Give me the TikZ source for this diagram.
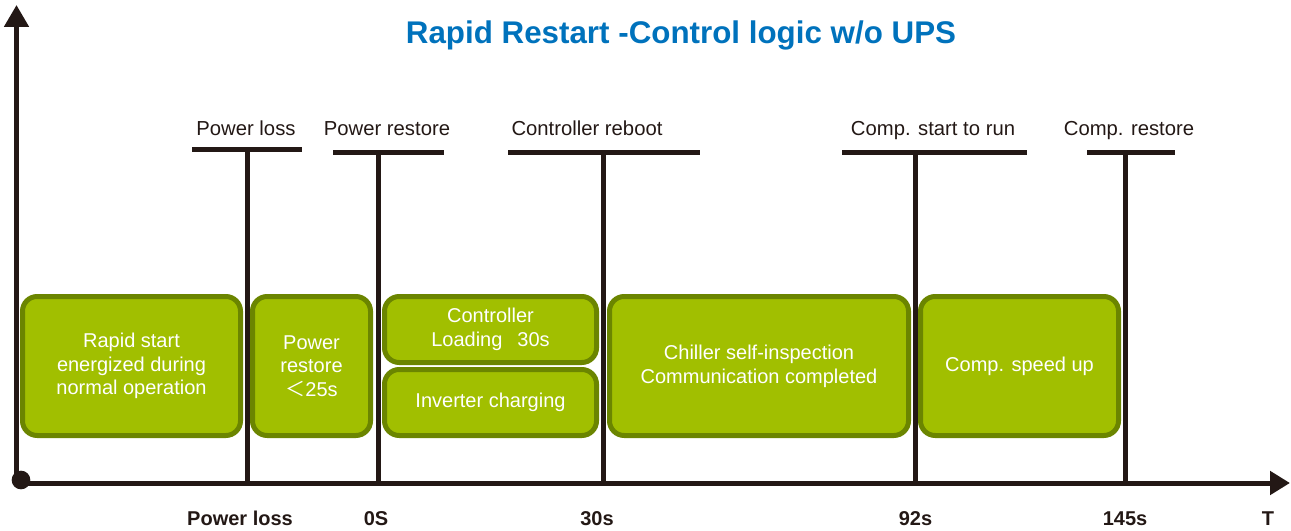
\documentclass[tikz,border=0pt]{standalone}
\usepackage{fontspec}
\setmainfont{Liberation Sans}
\newfontfamily\cjk{Noto Sans CJK SC}
\usetikzlibrary{arrows.meta}
\definecolor{boxfill}{RGB}{161,191,0}
\definecolor{boxedge}{RGB}{107,133,0}
\definecolor{ink}{RGB}{35,24,21}
\definecolor{titleblue}{RGB}{0,114,188}
\begin{document}
\begin{tikzpicture}[x=0.75pt,y=-0.75pt,
  phase/.style={draw=boxedge, fill=boxfill, line width=3.75pt, rounded corners=11pt, text=white, align=center, font=\fontsize{15}{17.8}\selectfont, inner sep=0pt},
  evlabel/.style={text=ink, font=\fontsize{15.2}{18}\selectfont, anchor=base, inner sep=0pt},
  ticklabel/.style={text=ink, font=\bfseries\fontsize{15}{18}\selectfont, anchor=base, inner sep=0pt},
  rulestyle/.style={draw=ink, line width=3.75pt},
]
\useasboundingbox (0,0) rectangle (1291,531);

% title
\node[font=\bfseries\fontsize{23.5}{28}\selectfont, text=titleblue, anchor=base, inner sep=0pt] (title) at (681,44) {Rapid Restart -Control logic w/o UPS};

% axes
\coordinate (origin) at (16.5,483);
\coordinate (ytop) at (16.5,5);
\coordinate (xend) at (1290,483);
\draw[rulestyle, -{Triangle[length=16.5pt,width=18pt]}] (origin) -- (ytop);
\draw[rulestyle, -{Triangle[length=15pt,width=17.25pt]}] (origin) -- (xend);
\fill[ink] (21,480) circle (7pt);

% event markers: bars and verticals
\coordinate (plL) at (192,150); \coordinate (plR) at (302,150);
\coordinate (plT) at (247,150); \coordinate (plB) at (247,483);
\coordinate (prL) at (333,153); \coordinate (prR) at (444,153);
\coordinate (prT) at (378,153); \coordinate (prB) at (378,483);
\coordinate (crL) at (508,153); \coordinate (crR) at (700,153);
\coordinate (crT) at (603,153); \coordinate (crB) at (603,483);
\coordinate (csL) at (842,153); \coordinate (csR) at (1027,153);
\coordinate (csT) at (915,153); \coordinate (csB) at (915,483);
\coordinate (cmL) at (1087,153); \coordinate (cmR) at (1175,153);
\coordinate (cmT) at (1125,153); \coordinate (cmB) at (1125,483);
\foreach \e in {pl,pr,cr,cs,cm}{
  \draw[rulestyle] (\e L) -- (\e R);
  \draw[rulestyle] (\e T) -- (\e B);
}

% event labels
\node[evlabel] (lpl) at (246,136) {Power loss};
\node[evlabel] (lpr) at (387,136) {Power restore};
\node[evlabel] (lcr) at (587,136) {Controller reboot};
\node[evlabel] (lcs) at (933,136) {Comp. start to run};
\node[evlabel] (lcm) at (1129,136) {Comp. restore};

% tick labels
\node[ticklabel] (tpl) at (240,525) {Power loss};
\node[ticklabel] (t0) at (376,525) {0S};
\node[ticklabel] (t30) at (597,525) {30s};
\node[ticklabel] (t92) at (915.5,525) {92s};
\node[ticklabel] (t145) at (1125,525) {145s};
\node[ticklabel] (tT) at (1268,525) {T};

% phase boxes
\node[phase, minimum width=163.5pt, minimum height=104.25pt] (b1) at (131.5,366) {Rapid start\\energized during\\normal operation};
\node[phase, minimum width=88.5pt, minimum height=104.25pt] (b2) at (311.5,366) {Power\\restore\\{\cjk ＜}25s};
\node[phase, minimum width=159pt, minimum height=49.5pt] (b3) at (490.5,329.5) {Controller\\Loading\hspace{0.75em}30s};
\node[phase, minimum width=159pt, minimum height=49.5pt] (b4) at (490.5,402.5) {Inverter charging};
\node[phase, minimum width=224.25pt, minimum height=104.25pt] (b5) at (759,366) {Chiller self-inspection\\Communication completed};
\node[phase, minimum width=148.5pt, minimum height=104.25pt] (b6) at (1019.5,366) {Comp. speed up};
\end{tikzpicture}
\end{document}
